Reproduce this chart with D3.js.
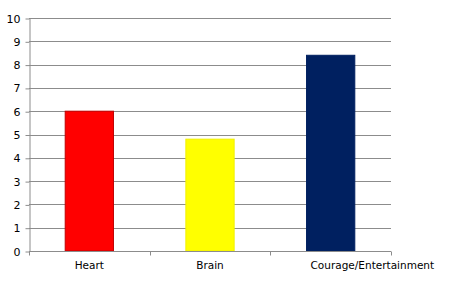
<!DOCTYPE html>
<html>
<head>
<meta charset="utf-8">
<script src="https://cdn.jsdelivr.net/npm/d3@7"></script>
<style>
  body { margin: 0; background: #fff; }
  svg text { font-family: "DejaVu Sans", Verdana, sans-serif; fill: #000; }
</style>
</head>
<body>
<div id="chart"></div>
<script>
var categories = ["Heart", "Brain", "Courage/Entertainment"];
var values = [6, 4.8, 8.4];
var barColors = ["#ff0000", "#ffff00", "#002060"];
var barStrokes = ["#c00000", "#f0f000", "#002060"];
var yTicks = [0, 1, 2, 3, 4, 5, 6, 7, 8, 9, 10];

var width = 462;
var height = 291;
var margin = { top: 18, right: 71, bottom: 40, left: 29 };

var svg = d3.select("#chart")
    .append("svg")
    .attr("width", width)
    .attr("height", height);

var x = d3.scaleBand()
    .domain(categories)
    .range([margin.left, width - margin.right])
    .paddingInner(0.6)
    .paddingOuter(0.3);

var y = d3.scaleLinear()
    .domain([0, 10])
    .range([height - margin.bottom, margin.top]);

// gridlines
svg.append("g")
    .selectAll("line")
    .data(yTicks.slice(1))
    .enter().append("line")
    .attr("x1", margin.left)
    .attr("x2", width - margin.right)
    .attr("y1", function (d) { return Math.round(y(d)) + 0.5; })
    .attr("y2", function (d) { return Math.round(y(d)) + 0.5; })
    .attr("stroke", "#8c8c8c")
    .attr("stroke-width", 1);

// bars
svg.append("g")
    .selectAll("rect")
    .data(values)
    .enter().append("rect")
    .attr("x", function (d, i) { return x(categories[i]); })
    .attr("y", function (d) { return y(d); })
    .attr("width", x.bandwidth())
    .attr("height", function (d) { return y(0) - y(d); })
    .attr("fill", function (d, i) { return barColors[i]; })
    .attr("stroke", function (d, i) { return barStrokes[i]; })
    .attr("stroke-width", 1);

// y axis
var yAxis = svg.append("g")
    .attr("transform", "translate(" + (margin.left + 0.5) + ",0.5)")
    .call(d3.axisLeft(y).tickValues(yTicks).tickSize(4).tickPadding(5).tickSizeOuter(0));
yAxis.select(".domain").attr("stroke", "#8c8c8c");
yAxis.selectAll(".tick line").attr("stroke", "#8c8c8c");
yAxis.selectAll("text").attr("font-size", "11px");

// x axis with category boundary ticks
var xAxisG = svg.append("g")
    .attr("transform", "translate(0," + (Math.round(y(0)) + 0.5) + ")");
xAxisG.append("line")
    .attr("x1", margin.left)
    .attr("x2", width - margin.right)
    .attr("stroke", "#8c8c8c");
var bounds = d3.range(categories.length + 1).map(function (i) {
    return margin.left + (width - margin.left - margin.right) * i / categories.length;
});
xAxisG.selectAll(".bt")
    .data(bounds)
    .enter().append("line")
    .attr("x1", function (d) { return Math.round(d) + 0.5; })
    .attr("x2", function (d) { return Math.round(d) + 0.5; })
    .attr("y1", 0)
    .attr("y2", 4)
    .attr("stroke", "#8c8c8c");
xAxisG.selectAll("text")
    .data(categories)
    .enter().append("text")
    .attr("y", 17)
    .attr("font-size", "10.5px")
    .text(function (d) { return d; })
    .each(function (d) {
        var t = d3.select(this);
        var w = this.getComputedTextLength();
        // long labels that overflow their slot start just inside the bar
        if (w > x.step()) {
            t.attr("x", x(d) + 4).attr("text-anchor", "start");
        } else {
            t.attr("x", x(d) + x.bandwidth() / 2).attr("text-anchor", "middle");
        }
    });
</script>
</body>
</html>
